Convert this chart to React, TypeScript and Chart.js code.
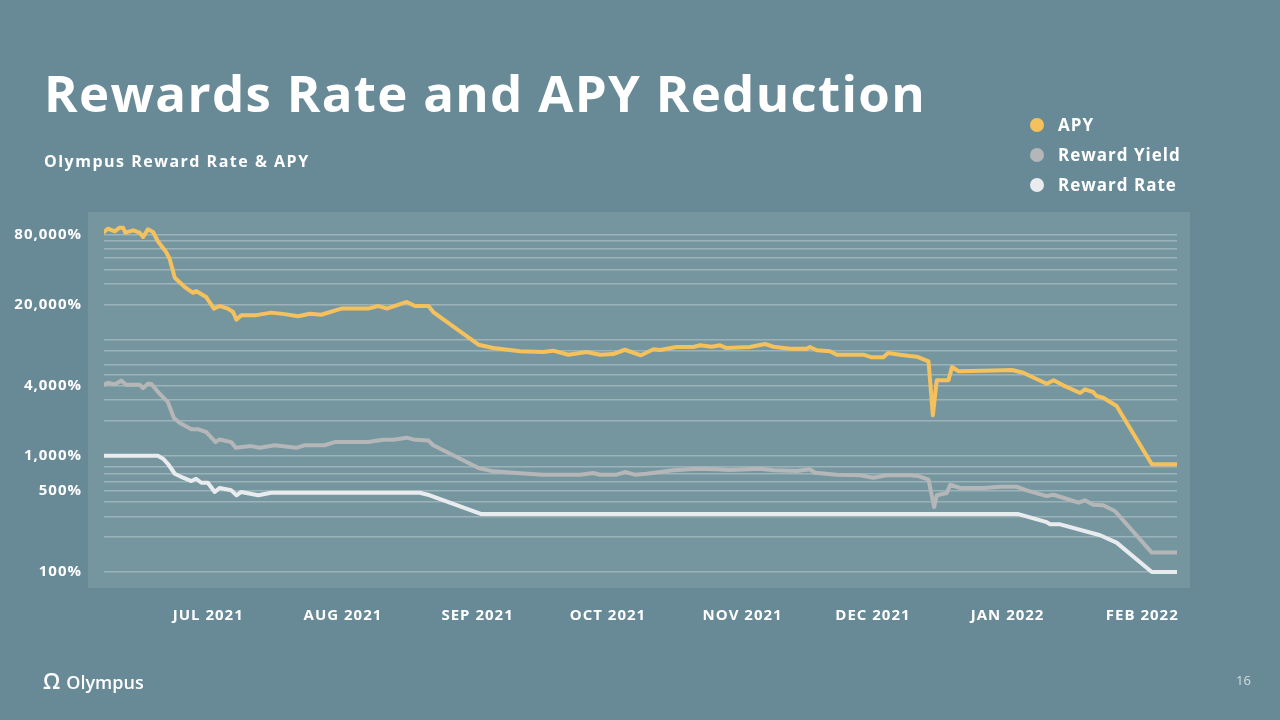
import React, { useEffect, useRef } from 'react';
import { Chart, registerables } from 'chart.js';

Chart.register(...registerables);

// x values are days since 2021-06-07
const apyDays = [0, 0.9, 2.5, 3.6, 4.4, 4.9, 6.7, 8.2, 9.0, 10.1, 11.3, 12.4, 14.3, 15.1, 16.3, 18.6, 20.5, 21.2, 23.5, 25.3, 26.6, 28.5, 29.7, 30.5, 31.6, 34.7, 38.5, 41.6, 44.7, 47.4, 50.0, 54.6, 60.8, 63.1, 65.1, 69.7, 71.6, 74.7, 75.8, 86.2, 89.6, 95.8, 101.1, 103.4, 106.9, 111.1, 114.2, 117.2, 119.9, 123.6, 126.5, 128.0, 131.8, 135.7, 137.2, 139.9, 141.8, 143.3, 148.7, 152.2, 154.1, 157.9, 161.8, 162.5, 164.1, 167.1, 168.7, 174.8, 176.7, 179.4, 180.5, 183.2, 185.5, 187.1, 189.8, 190.8, 191.7, 194.4, 195.2, 196.7, 202.4, 209.0, 211.6, 217.0, 218.6, 220.8, 224.7, 225.8, 227.7, 228.5, 230.0, 233.1, 241.2, 246.9];
const apyValues = [83800, 89500, 85000, 91300, 91300, 82700, 86700, 82700, 76000, 88500, 83800, 69800, 56400, 49400, 33900, 28200, 25100, 26100, 23200, 18400, 19400, 18400, 17200, 14800, 16100, 16100, 17000, 16500, 15800, 16600, 16300, 18400, 18400, 19400, 18400, 21000, 19400, 19400, 17200, 9000, 8430, 7900, 7790, 8000, 7390, 7790, 7390, 7490, 8150, 7300, 8220, 8110, 8600, 8600, 8900, 8650, 8900, 8430, 8600, 9130, 8650, 8320, 8320, 8600, 8060, 7900, 7390, 7390, 7020, 7020, 7640, 7390, 7200, 7100, 6480, 2230, 4450, 4450, 5790, 5320, 5380, 5460, 5170, 4160, 4450, 4030, 3460, 3720, 3530, 3260, 3150, 2680, 844, 844];

const yieldDays = [0, 0.9, 2.5, 4.0, 5.1, 8.2, 9.0, 10.1, 10.9, 12.8, 14.7, 16.1, 17.4, 20.1, 21.6, 23.5, 25.7, 26.6, 29.3, 30.3, 33.9, 35.8, 39.3, 44.3, 46.2, 50.8, 53.1, 60.8, 64.3, 66.6, 69.7, 71.6, 74.7, 75.8, 86.2, 89.6, 95.0, 101.1, 109.6, 112.6, 114.2, 118.0, 119.9, 122.2, 124.9, 131.1, 136.4, 141.0, 144.1, 151.0, 154.1, 159.5, 162.5, 163.7, 168.7, 174.0, 177.1, 180.2, 185.5, 187.5, 189.8, 191.1, 191.7, 194.0, 194.8, 197.1, 202.4, 206.3, 210.1, 212.4, 217.0, 218.6, 220.8, 224.3, 225.8, 227.7, 230.0, 232.7, 241.2, 246.9];
const yieldValues = [4080, 4240, 4110, 4420, 4080, 4080, 3820, 4160, 4140, 3410, 2900, 2110, 1920, 1690, 1690, 1600, 1310, 1380, 1310, 1170, 1210, 1170, 1230, 1170, 1230, 1230, 1310, 1310, 1370, 1370, 1430, 1370, 1350, 1230, 784, 734, 710, 687, 687, 710, 687, 687, 724, 687, 700, 749, 773, 764, 754, 773, 749, 739, 764, 714, 687, 679, 647, 679, 679, 669, 622, 362, 457, 478, 563, 528, 528, 541, 541, 504, 450, 462, 435, 395, 414, 379, 375, 335, 147, 147];

const rateDays = [0, 12.4, 13.6, 14.7, 16.3, 18.2, 20.1, 21.2, 22.4, 23.9, 25.5, 26.6, 29.3, 30.5, 31.6, 35.5, 38.5, 72.7, 75.0, 86.9, 210.5, 217.0, 217.8, 220.1, 229.3, 233.1, 241.2, 246.9];
const rateValues = [1000, 1000, 942, 853, 700, 647, 606, 634, 586, 586, 488, 528, 504, 457, 488, 457, 481, 480, 457, 315, 315, 269, 257, 257, 207, 179, 100, 100];

const tickDays = [24, 55, 86, 116, 147, 177, 208, 239];
const tickLabels = ['JUL 2021', 'AUG 2021', 'SEP 2021', 'OCT 2021', 'NOV 2021', 'DEC 2021', 'JAN 2022', 'FEB 2022'];

const gridValues = [100, 200, 300, 400, 500, 600, 700, 800, 1000, 2000, 3000, 4000, 5000, 6000, 8000, 10000, 20000, 30000, 40000, 50000, 60000, 70000, 80000];
const labelValues = [100, 500, 1000, 4000, 20000, 80000];

const seriesNames = ['APY', 'Reward Yield', 'Reward Rate'];
const seriesColors = ['#f5c15c', '#b4b6b8', '#e9ecee'];

const SLIDE_BG = '#688a96';
const PLOT_BG = '#76969f';
const GRID = 'rgba(255,255,255,0.28)';
const FONT = "'Open Sans', 'DejaVu Sans', sans-serif";

export default function App() {
  const ref = useRef<HTMLCanvasElement>(null);

  useEffect(() => {
    document.body.style.margin = '0';
    const canvas = ref.current;
    if (!canvas) return;

    const plotBg = {
      id: 'plotBg',
      beforeDraw(chart: any) {
        const { ctx, chartArea: a } = chart;
        ctx.save();
        ctx.fillStyle = PLOT_BG;
        ctx.fillRect(a.left - 16, a.top, a.right - a.left + 29, a.bottom - a.top);
        ctx.restore();
        (ctx as any).letterSpacing = '1px';
      },
      afterDraw(chart: any) {
        (chart.ctx as any).letterSpacing = '0px';
      },
    };

    const toPts = (xs: number[], ys: number[]) => xs.map((x, i) => ({ x, y: ys[i] }));

    const chart = new Chart(canvas, {
      type: 'line',
      data: {
        datasets: [
          { label: seriesNames[0], data: toPts(apyDays, apyValues), borderColor: seriesColors[0] },
          { label: seriesNames[1], data: toPts(yieldDays, yieldValues), borderColor: seriesColors[1] },
          { label: seriesNames[2], data: toPts(rateDays, rateValues), borderColor: seriesColors[2] },
        ].map((d) => ({
          ...d,
          borderWidth: 4,
          pointRadius: 0,
          tension: 0,
          fill: false,
          borderJoinStyle: 'round' as const,
          borderCapStyle: 'round' as const,
        })),
      },
      options: {
        responsive: false,
        maintainAspectRatio: false,
        animation: false,
        layout: { padding: { top: 212, right: 103, left: 0, bottom: 0 } },
        plugins: { legend: { display: false }, tooltip: { enabled: false } },
        scales: {
          x: {
            type: 'linear',
            min: 0,
            max: 247,
            afterBuildTicks: (s: any) => {
              s.ticks = tickDays.map((v) => ({ value: v }));
            },
            afterFit: (s: any) => {
              s.height = 132;
            },
            ticks: {
              autoSkip: false,
              maxRotation: 0,
              padding: 11,
              color: '#ffffff',
              font: { family: FONT, size: 15, weight: 'bold' },
              callback: (v: any) => {
                const i = tickDays.indexOf(Number(v));
                return i >= 0 ? tickLabels[i] : '';
              },
            },
            grid: { display: false },
            border: { display: false },
          },
          y: {
            type: 'logarithmic',
            min: 72.9,
            max: 124600,
            afterBuildTicks: (s: any) => {
              s.ticks = gridValues.map((v) => ({ value: v }));
            },
            afterFit: (s: any) => {
              s.width = 104;
            },
            ticks: {
              autoSkip: false,
              padding: 22,
              color: '#ffffff',
              font: { family: FONT, size: 15, weight: 'bold' },
              callback: (v: any) =>
                labelValues.includes(Number(v)) ? Number(v).toLocaleString('en-US') + '%' : '',
            },
            grid: { color: GRID, lineWidth: 1.5, drawTicks: false },
            border: { display: false },
          },
        },
      },
      plugins: [plotBg],
    });

    return () => chart.destroy();
  }, []);

  const text: React.CSSProperties = { position: 'absolute', color: '#ffffff', fontFamily: FONT, whiteSpace: 'nowrap' };

  return (
    <div style={{ position: 'fixed', left: 0, top: 0, width: 1280, height: 720, background: SLIDE_BG, overflow: 'hidden' }}>
      <canvas ref={ref} width={1280} height={720} style={{ position: 'absolute', left: 0, top: 0, width: 1280, height: 720 }} />
      <div style={{ ...text, left: 44, top: 62, fontSize: 51, fontWeight: 700, lineHeight: '60px', letterSpacing: 1.3 }}>
        Rewards Rate and APY Reduction
      </div>
      <div style={{ ...text, left: 44, top: 151, fontSize: 16, fontWeight: 700, lineHeight: '20px', letterSpacing: 1.5 }}>
        Olympus Reward Rate &amp; APY
      </div>
      {seriesNames.map((n, i) => (
        <div key={n} style={{ ...text, left: 1030, top: 115 + i * 30, height: 20, display: 'flex', alignItems: 'center' }}>
          <span style={{ display: 'inline-block', width: 14, height: 14, borderRadius: 7, background: seriesColors[i], marginRight: 14 }} />
          <span style={{ fontSize: 17, fontWeight: 700, lineHeight: '20px', letterSpacing: 1 }}>{n}</span>
        </div>
      ))}
      <div style={{ ...text, left: 43, top: 668, fontSize: 18, fontWeight: 600, lineHeight: '24px' }}>
        <span style={{ fontSize: 22, marginRight: 6 }}>Ω</span>Olympus
      </div>
      <div style={{ ...text, left: 1236, top: 672, fontSize: 13, lineHeight: '16px', color: '#d3dde1' }}>16</div>
    </div>
  );
}
